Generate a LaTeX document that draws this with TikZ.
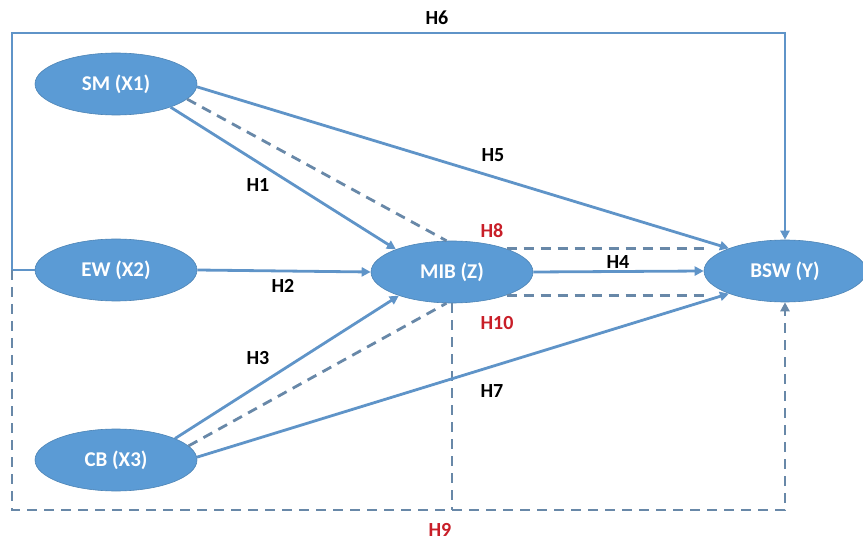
\documentclass[tikz,border=0pt]{standalone}
\usepackage{fontspec}
\setmainfont{Carlito}
\usepackage{tikz}
\usetikzlibrary{arrows.meta,shapes.geometric}
\definecolor{boxblue}{RGB}{91,155,213}
\definecolor{lineblue}{RGB}{95,148,200}
\definecolor{dashblue}{RGB}{104,136,168}
\definecolor{hypred}{RGB}{200,30,40}

\begin{document}
\begin{tikzpicture}[x=1pt, y=-1pt,
	var/.style={ellipse, fill=boxblue, draw=boxblue!85!black, line width=0.6pt, minimum width=162pt, minimum height=62pt, inner sep=0pt, text=white, font=\fontsize{21}{24}\selectfont\bfseries},
	link/.style={draw=lineblue, line width=2.8pt},
	arr/.style={-{Triangle[length=9pt,width=9pt]}},
	mediate/.style={draw=dashblue, line width=2.8pt, dash pattern=on 10pt off 7pt},
	hyp/.style={font=\fontsize{20}{23}\selectfont\bfseries},
	hypr/.style={hyp, text=hypred}]
	\useasboundingbox (0,0) rectangle (863,540);
	\node[var] (sm) at (116,84) {SM (X1)};
	\node[var] (ew) at (116,270) {EW (X2)};
	\node[var] (cb) at (116,460) {CB (X3)};
	\node[var] (mib) at (452,272) {MIB (Z)};
	\node[var] (bsw) at (785,271) {BSW (Y)};
	\coordinate (tl) at (12,33);
	\coordinate (bl) at (12,510);

	\draw[link, arr] (ew.west) -- (ew.west -| tl) -- (tl) -| (bsw.north);
	\draw[mediate, arr] (ew.west -| tl) -- (bl) -| (bsw.south);
	\draw[mediate] (mib.south) -- (mib.south |- bl);
	\draw[link, arr] (sm.-2) -- (bsw.158);
	\draw[link, arr] (sm.-23) -- (mib.158);
	\draw[mediate] (sm.-12) -- (mib.100);
	\draw[link, arr] (ew.east) -- (mib.west);
	\draw[link, arr] (cb.20) -- (mib.204);
	\draw[mediate] (cb.11) -- (mib.260);
	\draw[link, arr] (cb.2) -- (bsw.202);
	\draw[link, arr] (mib.east) -- (bsw.west);
	\draw[mediate] (mib.23) -- (mib.23 -| bsw.west);
	\draw[mediate] (mib.-23) -- (mib.-23 -| bsw.west);

	\node[hyp] (h6) at (437,18) {H6};
	\node[hyp] (h5) at (493,155) {H5};
	\node[hyp] (h1) at (258,185) {H1};
	\node[hypr] (h8) at (492,231) {H8};
	\node[hyp] (h4) at (618,262) {H4};
	\node[hyp] (h2) at (283,286) {H2};
	\node[hypr] (h10) at (497,323) {H10};
	\node[hyp] (h3) at (258,358) {H3};
	\node[hyp] (h7) at (492,391) {H7};
	\node[hypr] (h9) at (440,530) {H9};
\end{tikzpicture}
\end{document}
